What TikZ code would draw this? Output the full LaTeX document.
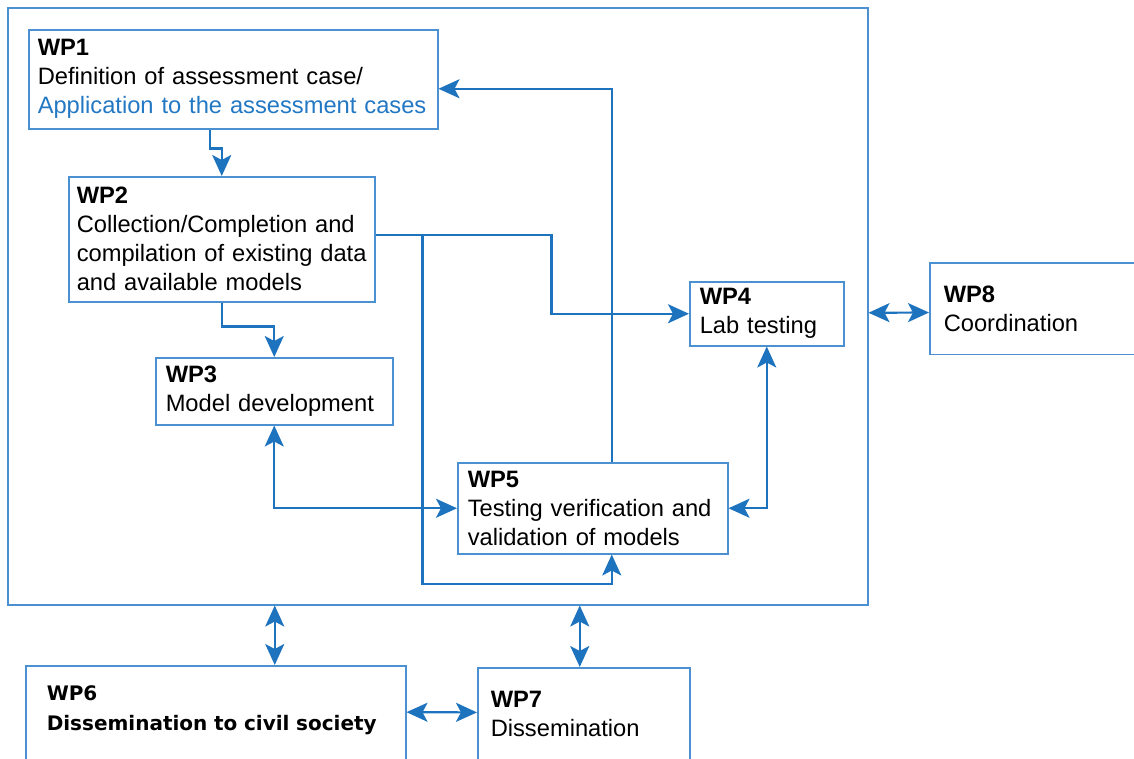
\documentclass[tikz,border=0pt]{standalone}
\usepackage{fontspec}
\setmainfont{Liberation Sans}
\newfontfamily\widesans{DejaVu Sans}
\usetikzlibrary{arrows.meta}
\definecolor{lineblue}{RGB}{30,115,190}
\definecolor{boxblue}{RGB}{75,145,210}
\definecolor{textblue}{RGB}{35,120,195}

\begin{document}
\begin{tikzpicture}[x=1pt,y=1pt,
    >={Stealth[length=21pt,width=19pt,inset=5pt]},
    wpbox/.style={draw=boxblue,line width=1.5pt,anchor=north west,align=left,inner ysep=2pt},
    flow/.style={->,color=lineblue,line width=2.2pt},
    dflow/.style={<->,color=lineblue,line width=2.2pt},
    font=\fontsize{23.7}{29}\selectfont]
    % page size and cut at the edges
    \useasboundingbox (0,0) rectangle (1134,-758);
    \clip (0,0) rectangle (1134,-758);

    % 1) The big frame round WP1--WP5
    \node[draw=boxblue,line width=1.5pt,anchor=north west,inner sep=0pt,
      minimum width=860pt,minimum height=597pt] (frame) at (7,-7) {};

    % 2) Work packages inside the frame
    \node[wpbox,inner xsep=9pt,text width=391pt,minimum height=99pt] (wp1) at (28,-29)
      {\textbf{WP1}\\\mbox{Definition of assessment case/}\\
       \mbox{\color{textblue}Application to the assessment cases}};
    \node[wpbox,inner xsep=8pt,text width=290pt,minimum height=125pt] (wp2) at (68,-176)
      {\textbf{WP2}\\\mbox{Collection/Completion and}\\\mbox{compilation of existing data}\\
       \mbox{and available models}};
    \node[wpbox,inner xsep=10pt,text width=217pt,minimum height=67pt] (wp3) at (155,-357)
      {\textbf{WP3}\\Model development};
    \node[wpbox,inner xsep=10pt,text width=134pt,minimum height=64pt] (wp4) at (689,-281)
      {\textbf{WP4}\\Lab testing};
    \node[wpbox,inner xsep=10pt,text width=250pt,minimum height=91pt] (wp5) at (457,-462)
      {\textbf{WP5}\\\mbox{Testing verification and}\\\mbox{validation of models}};

    % 3) Work packages outside the frame (cut by the page edge)
    \node[wpbox,inner xsep=14pt,inner ysep=23pt,text width=203pt,text depth=29pt] (wp8) at (929,-262)
      {\textbf{WP8}\\Coordination};
    \node[wpbox,inner xsep=21pt,inner ysep=20pt,text width=338pt,text depth=60pt,
      font=\widesans\bfseries\fontsize{20}{30}\selectfont] (wp6) at (25,-665)
      {WP6\\\mbox{Dissemination to civil society}};
    \node[wpbox,inner xsep=13pt,inner ysep=23pt,text width=186pt,text depth=51pt] (wp7) at (477,-667)
      {\textbf{WP7}\\Dissemination};

    % 4) Connectors inside the frame
    \draw[flow] ([xshift=-23.5pt]wp1.south) -- ++(0,-19) -| (wp2.north);
    \draw[flow] ([yshift=4pt]wp2.east) -- ++(176,0) |- (wp4.west);
    \draw[flow] ([yshift=4pt]wp2.east) ++(47,0) -- ++(0,-349) -| ([xshift=19pt]wp5.south);
    \draw[flow] ([xshift=19pt]wp5.north) |- ([yshift=-9.5pt]wp1.east);
    \draw[flow] (wp2.south) -- ++(0,-24) -| (wp3.north);
    \draw[dflow] (wp3.south) |- (wp5.west);
    \draw[dflow] (wp4.south) |- (wp5.east);

    % 5) Connectors to the outside
    \draw[dflow] ([yshift=-6.5pt]frame.east) -- ([yshift=-4pt]wp8.west);
    \draw[dflow] ([xshift=-163pt]frame.south) -- ([xshift=59pt]wp6.north);
    \draw[dflow] ([xshift=142pt]frame.south) -- ([xshift=-4pt]wp7.north);
    \draw[dflow] ([yshift=11pt]wp6.east) -- ([yshift=12pt]wp7.west);
\end{tikzpicture}
\end{document}
